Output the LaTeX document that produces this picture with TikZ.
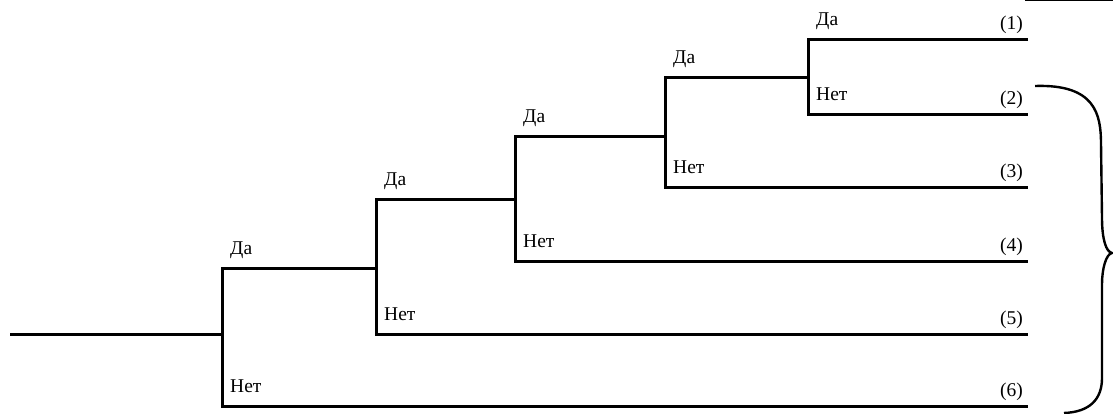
\documentclass[tikz,border=0pt]{standalone}
\usepackage{fontspec}
\setmainfont{Liberation Serif}
\begin{document}
\begin{tikzpicture}[x=1pt,y=1pt,
	rama/.style={line width=3pt, line join=miter},
	etq/.style={anchor=base west, inner sep=0pt, font=\fontsize{19.5}{22}\selectfont},
	num/.style={anchor=base east, inner sep=0pt, font=\fontsize{19.5}{22}\selectfont}]
	
	\useasboundingbox (0,0) rectangle (1113,414);
	
	% Puntos de decision
	\coordinate (inicio) at (10,79);
	\coordinate (a) at (222,79);
	\coordinate (b) at (376,145);
	\coordinate (c) at (515,214);
	\coordinate (d) at (665,277);
	\coordinate (e) at (808,336);
	
	% Extremos de las ramas
	\coordinate (f1) at (1028,374);
	\coordinate (f2) at (1028,299);
	\coordinate (f3) at (1028,226);
	\coordinate (f4) at (1028,152);
	\coordinate (f5) at (1028,79);
	\coordinate (f6) at (1028,7);
	
	% Ramas
	\draw[rama] (inicio) -- (a);
	\draw[rama] (b) -| (a |- f6) -- (f6);
	\draw[rama] (c) -| (b |- f5) -- (f5);
	\draw[rama] (d) -| (c |- f4) -- (f4);
	\draw[rama] (e) -| (d |- f3) -- (f3);
	\draw[rama] (f1) -| (e |- f2) -- (f2);
	
	% Etiquetas Da / Net
	\node[etq] (daA) at ([shift={(8,14)}]a |- b) {Да};
	\node[etq] (netA) at ([shift={(8,14)}]a |- f6) {Нет};
	\node[etq] (daB) at ([shift={(8,14)}]b |- c) {Да};
	\node[etq] (netB) at ([shift={(8,14)}]b |- f5) {Нет};
	\node[etq] (daC) at ([shift={(8,14)}]c |- d) {Да};
	\node[etq] (netC) at ([shift={(8,14)}]c |- f4) {Нет};
	\node[etq] (daD) at ([shift={(8,14)}]d |- e) {Да};
	\node[etq] (netD) at ([shift={(8,14)}]d |- f3) {Нет};
	\node[etq] (daE) at ([shift={(8,14)}]e |- f1) {Да};
	\node[etq] (netE) at ([shift={(8,14)}]e |- f2) {Нет};
	
	% Numeros de los resultados
	\node[num] (n1) at ([shift={(-5,10)}]f1) {(1)};
	\node[num] (n2) at ([shift={(-5,10)}]f2) {(2)};
	\node[num] (n3) at ([shift={(-5,10)}]f3) {(3)};
	\node[num] (n4) at ([shift={(-5,10)}]f4) {(4)};
	\node[num] (n5) at ([shift={(-5,10)}]f5) {(5)};
	\node[num] (n6) at ([shift={(-5,10)}]f6) {(6)};
	
	% Llave
	\coordinate (llaveA) at (1035,328);
	\coordinate (llaveP) at (1112,161);
	\coordinate (llaveB) at (1064,1);
	\draw[line width=2.4pt] (llaveA) .. controls (1095,330) and (1101,300) .. (1101,270)
		-- (1102,196) .. controls (1102,175) and (1106,162) .. (llaveP)
		.. controls (1106,160) and (1102,145) .. (1102,130)
		-- (1102,36) .. controls (1102,15) and (1090,2) .. (llaveB);
	
	% Trazo del borde superior
	\coordinate (bordeI) at (1025,414);
	\coordinate (bordeD) at (1113,414);
	\draw[line width=2pt] (bordeI) -- (bordeD);
	
\end{tikzpicture}
\end{document}
